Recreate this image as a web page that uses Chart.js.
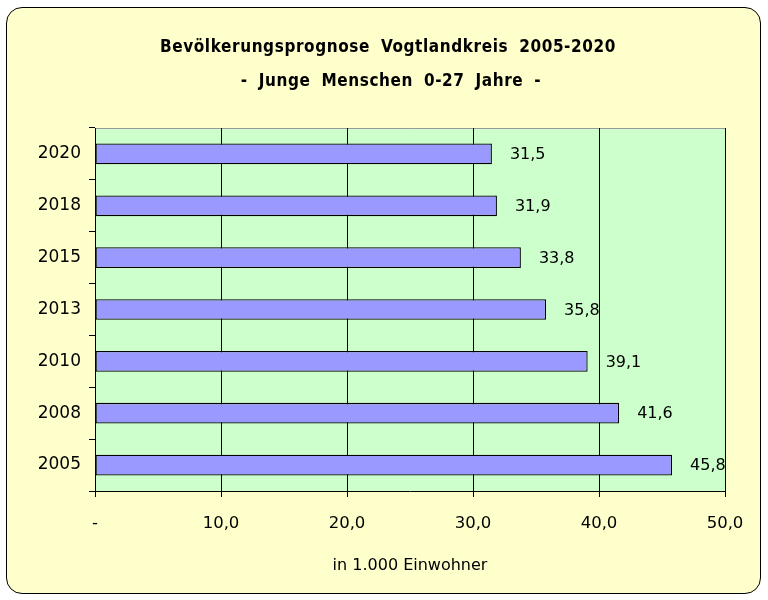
<!DOCTYPE html>
<html>
<head>
<meta charset="utf-8">
<script src="https://cdn.jsdelivr.net/npm/chart.js@4.4.0/dist/chart.umd.min.js"></script>
<style>
    html, body { margin: 0; padding: 0; background: #ffffff; }
    #frame {
        position: absolute;
        left: 6px; top: 7px;
        width: 753px; height: 585px;
        background: #ffffcc;
        border: 1px solid #000;
        border-radius: 16px;
    }
    #wrap { position: absolute; left: 0; top: 0; width: 768px; height: 600px; }
</style>
</head>
<body>
<div id="frame"></div>
<div id="wrap"><canvas id="chart" width="768" height="600"></canvas></div>
<script>
// Chart data (top to bottom)
const years = ['2020', '2018', '2015', '2013', '2010', '2008', '2005'];
const youngPeople = [31.5, 31.9, 33.8, 35.8, 39.1, 41.6, 45.8];
const xTicks = [0, 10, 20, 30, 40, 50];

const titleLines = ['Bevölkerungsprognose Vogtlandkreis 2005-2020', '- Junge Menschen 0-27 Jahre -'];
const axisTitle = 'in 1.000 Einwohner';

const sans = '"DejaVu Sans", Verdana, sans-serif';

function formatNum(v) {
    if (v === 0) return '-';
    return v.toFixed(1).replace('.', ',');
}

// Plot area background and gray top/right frame
const plotBackground = {
    id: 'plotBackground',
    beforeDraw(chart) {
        const a = chart.chartArea;
        const ctx = chart.ctx;
        ctx.save();
        ctx.fillStyle = '#ccffcc';
        ctx.fillRect(a.left, a.top, a.right - a.left, a.bottom - a.top);
        ctx.strokeStyle = '#999999';
        ctx.lineWidth = 1;
        ctx.beginPath();
        ctx.moveTo(a.left, a.top + 0.5);
        ctx.lineTo(a.right + 0.5, a.top + 0.5);
        ctx.lineTo(a.right + 0.5, a.bottom);
        ctx.stroke();
        ctx.restore();
    }
};

// Two-line title centred on the frame
const chartTitle = {
    id: 'chartTitle',
    afterDraw(chart) {
        const ctx = chart.ctx;
        ctx.save();
        ctx.font = 'bold 17px "DejaVu Sans Condensed", "DejaVu Sans", sans-serif';
        ctx.fillStyle = '#000';
        ctx.textAlign = 'center';
        ctx.textBaseline = 'alphabetic';
        ctx.letterSpacing = '0.6px';
        ctx.wordSpacing = '5px';
        ctx.fillText(titleLines[0], 388, 52);
        ctx.fillText(titleLines[1], 391, 86);
        ctx.restore();
    }
};

// Value labels to the right of bars
const valueLabels = {
    id: 'valueLabels',
    afterDatasetsDraw(chart) {
        const ctx = chart.ctx;
        const meta = chart.getDatasetMeta(0);
        ctx.save();
        ctx.font = '16px ' + sans;
        ctx.fillStyle = '#000';
        ctx.textAlign = 'left';
        ctx.textBaseline = 'middle';
        meta.data.forEach((bar, i) => {
            ctx.fillText(formatNum(youngPeople[i]), bar.x + 18, bar.y + 1);
        });
        ctx.restore();
    }
};

new Chart(document.getElementById('chart').getContext('2d'), {
    type: 'bar',
    data: {
        labels: years,
        datasets: [{
            data: youngPeople,
            backgroundColor: '#9999ff',
            borderColor: '#000000',
            borderWidth: 1.3,
            borderSkipped: false,
            barPercentage: 0.4,
            categoryPercentage: 1.0
        }]
    },
    options: {
        indexAxis: 'y',
        responsive: false,
        animation: false,
        events: [],
        layout: { padding: { left: 0, right: 43, top: 128, bottom: 9 } },
        plugins: {
            legend: { display: false },
            tooltip: { enabled: false },
            title: { display: false }
        },
        scales: {
            x: {
                min: 0,
                max: 50,
                afterBuildTicks(scale) {
                    scale.ticks = xTicks.map(v => ({ value: v }));
                },
                afterFit(scale) { scale.height = 100; },
                ticks: {
                    color: '#000',
                    font: { family: sans, size: 16.5 },
                    padding: 17,
                    callback: v => formatNum(v)
                },
                grid: { color: '#000', lineWidth: 1, tickLength: 6, drawTicks: true },
                border: { color: '#000', width: 1 },
                title: {
                    display: true,
                    text: axisTitle,
                    color: '#000',
                    font: { family: sans, size: 16 },
                    padding: { top: 0, bottom: 16 }
                }
            },
            y: {
                afterFit(scale) { scale.width = 95; },
                ticks: {
                    color: '#000',
                    font: { family: sans, size: 17 },
                    padding: 8
                },
                grid: { color: '#000', drawOnChartArea: false, tickLength: 6, offset: true },
                border: { color: '#000', width: 1 }
            }
        }
    },
    plugins: [plotBackground, valueLabels, chartTitle]
});
</script>
</body>
</html>
